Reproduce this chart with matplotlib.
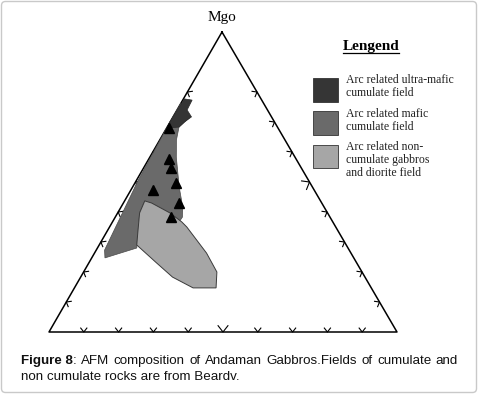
import numpy as np
import matplotlib
matplotlib.use("Agg")
import matplotlib.pyplot as plt
from matplotlib.patches import Polygon, Rectangle, FancyBboxPatch

# ternary compositions in percent: (MgO at top, right-vertex component); left = 100 - M - R
ultramafic_M = [77.7, 77.3, 74.0, 71.7, 70.0, 68.3, 68.0, 72.3]
ultramafic_R = [0.3, 2.7, 2.9, 5.3, 4.1, 3.4, 0.0, 0.0]

mafic_M = [76.3, 71.3, 68.3, 64.0, 58.3, 48.3, 41.7, 38.3, 36.0, 43.7, 39.7, 28.0, 24.7, 27.3, 48.0, 49.7, 68.3]
mafic_R = [0.0, 4.8, 3.4, 4.8, 7.6, 13.4, 17.7, 19.3, 19.1, 5.8, 6.3, 11.3, 3.8, 2.4, 0.7, 0.5, 0.0]

noncum_M = [43.7, 43.0, 39.7, 36.7, 35.0, 26.3, 20.0, 14.7, 14.7, 18.3, 23.0, 29.0, 33.0, 39.7]
noncum_R = [5.8, 8.1, 15.0, 19.9, 22.2, 32.2, 38.3, 40.7, 34.1, 26.4, 19.5, 10.8, 9.1, 6.3]

samples_M = [68.0, 57.7, 54.7, 49.7, 47.3, 43.0, 38.3]
samples_R = [0.8, 5.7, 8.0, 11.7, 6.5, 16.1, 15.9]

side_ticks = [10, 20, 30, 40, 50, 60, 70, 80]
base_ticks = [10, 20, 30, 40, 50, 60, 70, 80, 90]

legend_labels = ["Arc related ultra-mafic\ncumulate field",
                 "Arc related mafic\ncumulate field",
                 "Arc related non-\ncumulate gabbros\nand diorite field"]
legend_colors = ["#353535", "#6a6a6a", "#a6a6a6"]

caption_head = "Figure 8"
caption1 = ": AFM composition of Andaman Gabbros.Fields of cumulate and"
caption2 = "non cumulate rocks are from Beardv."

# triangle corners in figure pixels
TOP = np.array([222.0, 32.0])
LEFT = np.array([49.0, 332.0])
RIGHT = np.array([397.0, 332.0])


def tern(M, R):
    M = np.asarray(M, float) / 100
    R = np.asarray(R, float) / 100
    L = 1 - M - R
    return np.outer(M, TOP) + np.outer(R, RIGHT) + np.outer(L, LEFT)


fig = plt.figure(figsize=(4.78, 3.94), dpi=100)
ax = fig.add_axes([0, 0, 1, 1])
ax.set_xlim(0, 478)
ax.set_ylim(394, 0)
ax.axis("off")

# outer frame
ax.add_patch(FancyBboxPatch((1.5, 1.5), 475, 391, boxstyle="round,pad=0,rounding_size=4",
                            fc="white", ec="#c9c9c9", lw=1.0, zorder=0))

# triangle
tri = np.array([TOP, LEFT, RIGHT, TOP])
ax.plot(tri[:, 0], tri[:, 1], color="black", lw=1.1, zorder=2)


def chevron(p, d, size, ang=38):
    # d: unit inward direction
    a = np.radians(ang)
    perp = np.array([-d[1], d[0]])
    e1 = p + size * (np.cos(a) * d + np.sin(a) * perp)
    e2 = p + size * (np.cos(a) * d - np.sin(a) * perp)
    ax.plot([e1[0], p[0], e2[0]], [e1[1], p[1], e2[1]], color="black", lw=0.8, zorder=1)


for t in base_ticks:
    chevron(tern([0], [t])[0], np.array([0.0, -1.0]), 8 if t == 50 else 5)

edge_l = (TOP - LEFT) / np.linalg.norm(TOP - LEFT)
edge_r = (TOP - RIGHT) / np.linalg.norm(TOP - RIGHT)
n_l = np.array([-edge_l[1], edge_l[0]])
if n_l[0] < 0:
    n_l = -n_l
n_r = np.array([edge_r[1], -edge_r[0]])
if n_r[0] > 0:
    n_r = -n_r
for t in side_ticks:
    chevron(tern([t], [0])[0], n_l, 8 if t == 50 else 5)
    chevron(tern([t], [100 - t])[0], n_r, 8 if t == 50 else 5)

# fields
ax.add_patch(Polygon(tern(mafic_M, mafic_R), closed=True, fc=legend_colors[1], ec="#4a4a4a", lw=0.5, zorder=3))
ax.add_patch(Polygon(tern(ultramafic_M, ultramafic_R), closed=True, fc=legend_colors[0], ec="#2a2a2a", lw=0.5, zorder=4))
ax.add_patch(Polygon(tern(noncum_M, noncum_R), closed=True, fc=legend_colors[2], ec="#3a3a3a", lw=0.7, zorder=4))

pts = tern(samples_M, samples_R)
ax.plot(pts[:, 0], pts[:, 1], ls="none", marker="^", ms=6.5, color="black", zorder=5)

# apex label
ax.text(222, 17, "Mgo", ha="center", va="center", fontsize=11, family="Liberation Serif")

# legend
ax.text(371, 46, "Lengend", ha="center", va="center", fontsize=11, fontweight="bold",
        family="Liberation Serif")
ax.plot([343, 399], [52.5, 52.5], color="black", lw=0.9)
box_tops = [78, 111, 144.5]
text_y = [86.5, 120.5, 160]
for i, (lab, col) in enumerate(zip(legend_labels, legend_colors)):
    ax.add_patch(Rectangle((313, box_tops[i]), 25, 24 if i < 2 else 23, fc=col, ec="#333333", lw=0.6))
    ax.text(346.5, text_y[i], lab, ha="left", va="center", fontsize=8.5, family="Liberation Serif",
            linespacing=1.12, color="#222222")

# caption: bold head, then first line justified to the right margin
fs = 9.6
renderer = fig.canvas.get_renderer()
x0, x1 = 21.0, 458.0
head = ax.text(x0, 361, caption_head, ha="left", va="center", fontsize=fs, fontweight="bold",
               family="Liberation Sans", color="#111111")


def width_px(artist):
    return artist.get_window_extent(renderer).width


words = caption1.split(" ")
items = [head]
for w in words:
    items.append(ax.text(0, 361, w, ha="left", va="center", fontsize=fs,
                         family="Liberation Sans", color="#111111"))
# first word ":" attaches to head without a gap
widths = [width_px(a) for a in items]
total = widths[0] + widths[1] + sum(widths[2:])
ngaps = len(items) - 2
gap = (x1 - x0 - total) / ngaps
x = x0 + widths[0]
items[1].set_x(x)
x += widths[1]
for a, w in zip(items[2:], widths[2:]):
    x += gap
    a.set_x(x)
    x += w

ax.text(x0, 377, caption2, ha="left", va="center", fontsize=fs, family="Liberation Sans",
        color="#111111")

fig.savefig("out.png", dpi=100)
